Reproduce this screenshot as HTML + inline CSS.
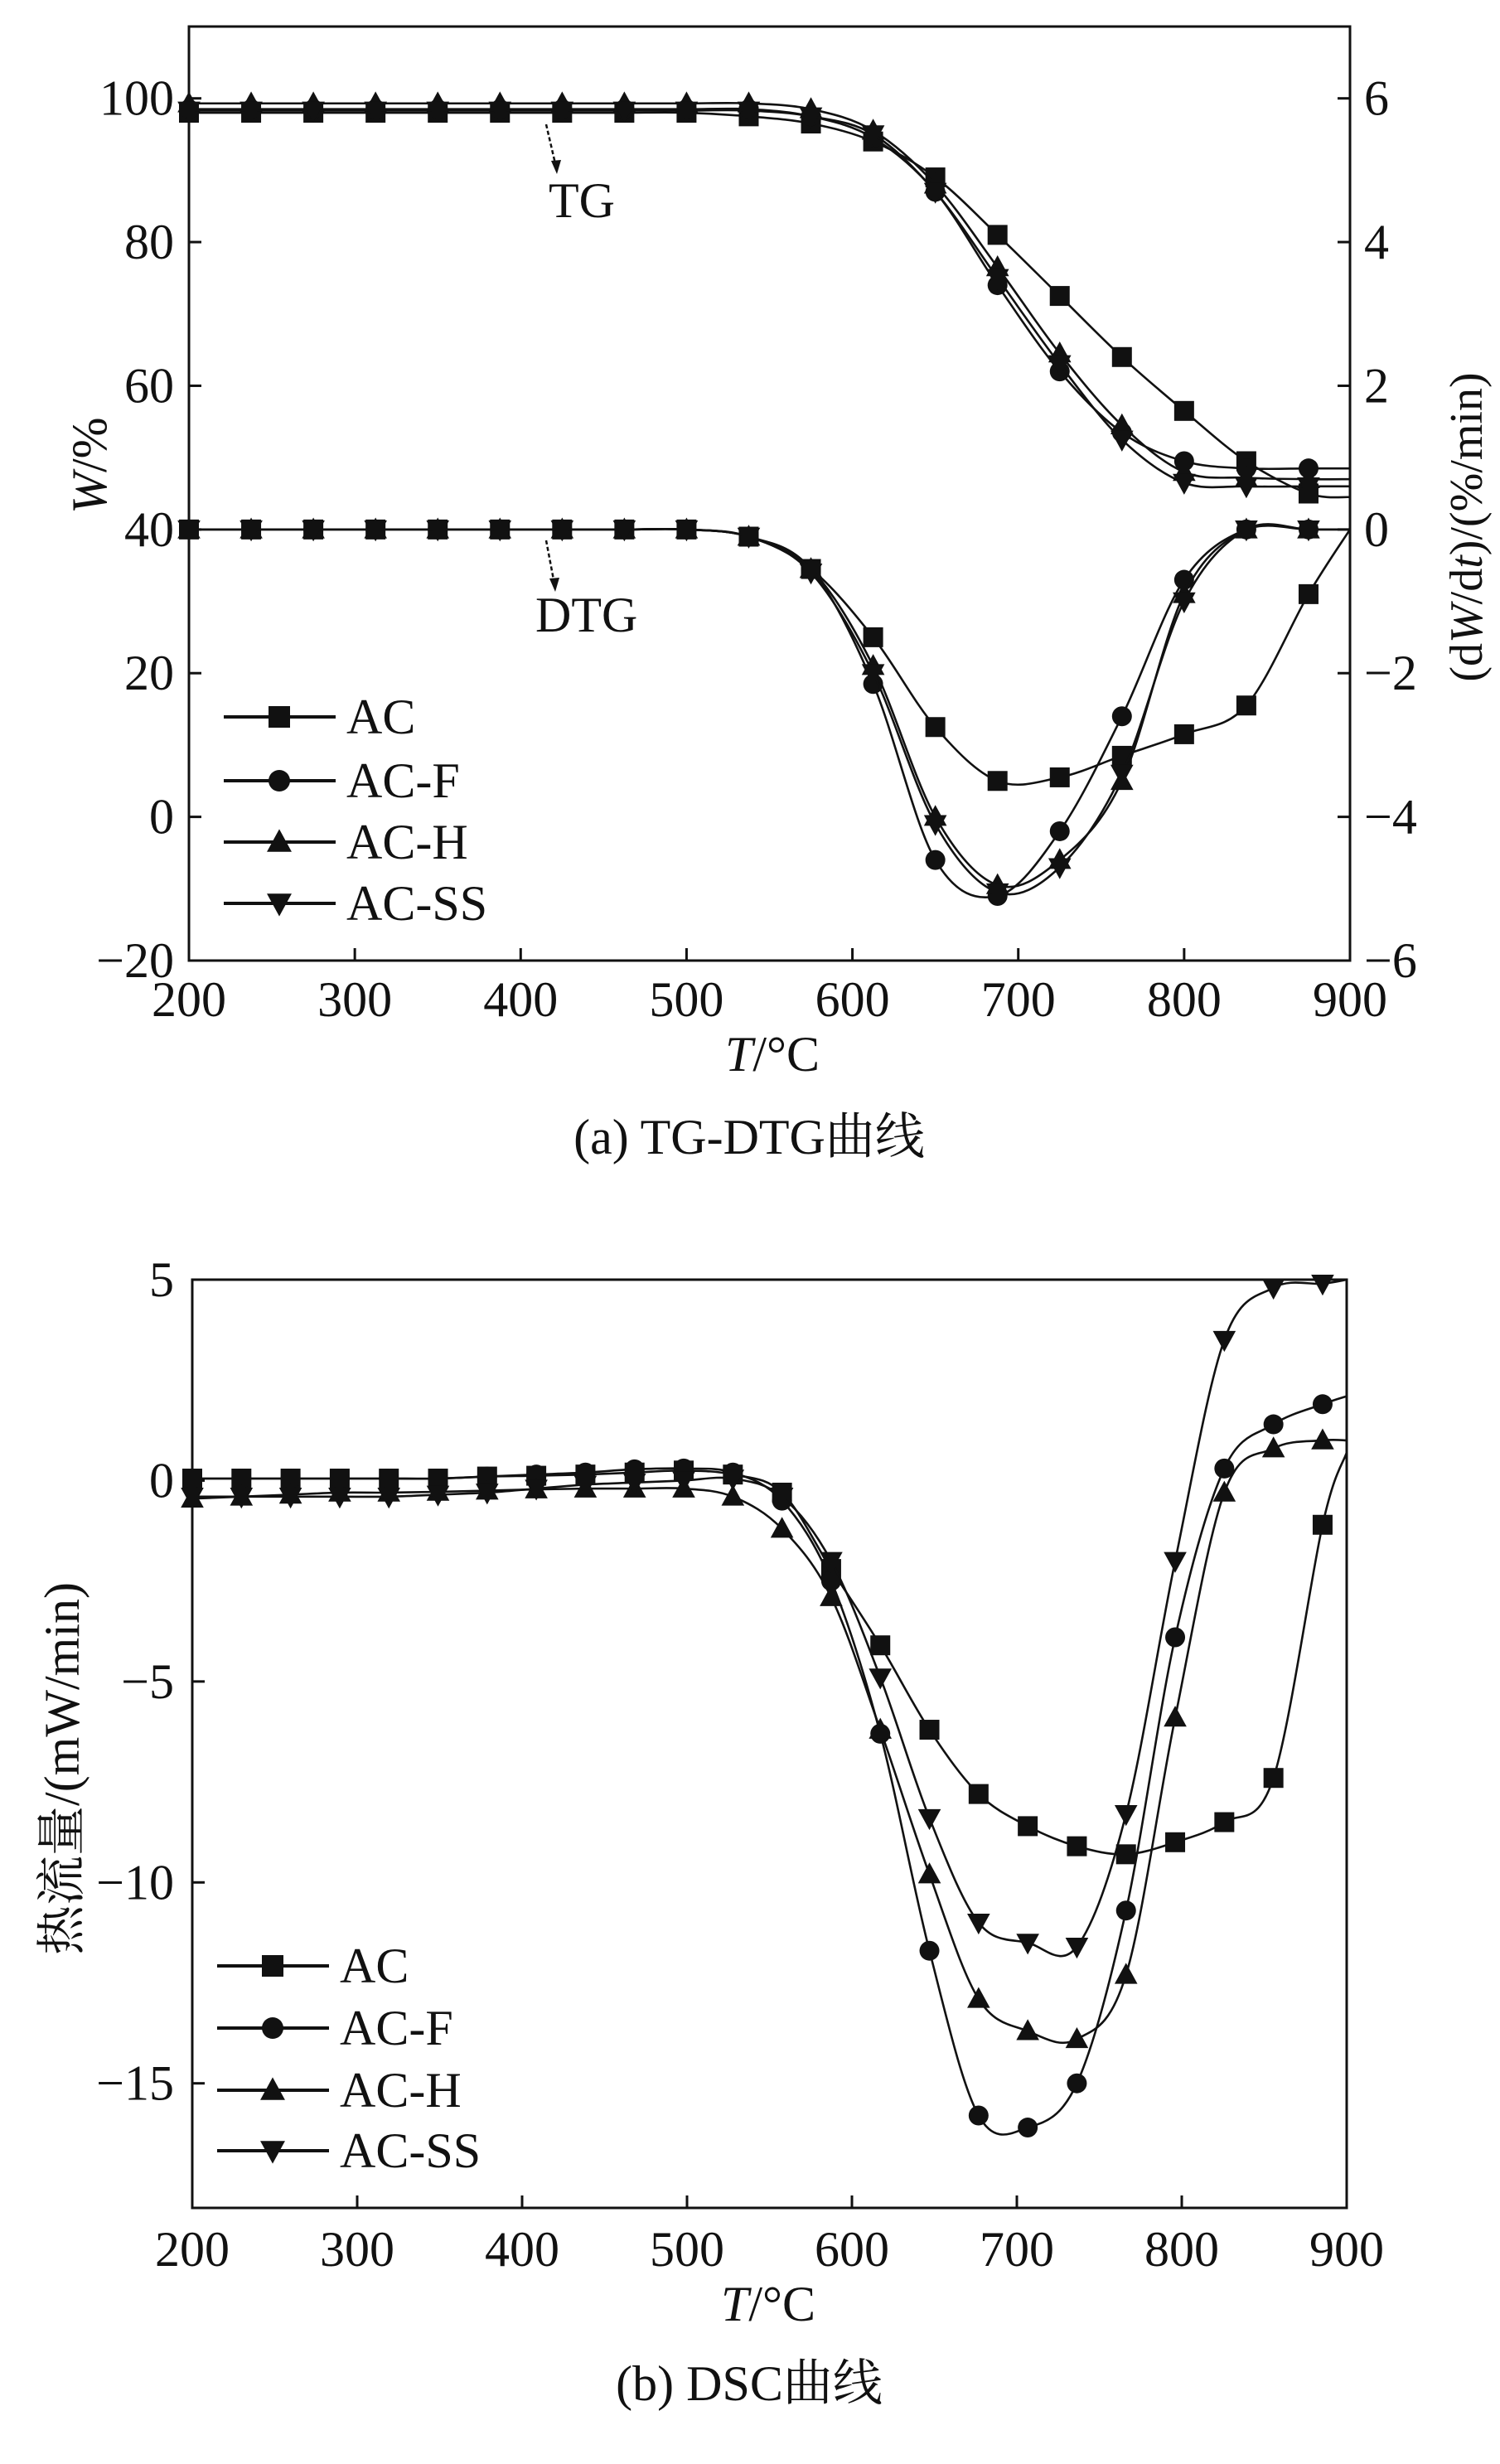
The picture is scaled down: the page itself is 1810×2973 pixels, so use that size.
<!DOCTYPE html>
<html><head><meta charset="utf-8">
<style>
html,body{margin:0;padding:0;background:#fff;}
svg, svg text, svg tspan{font-family:"Liberation Serif","Noto Serif CJK SC",serif;}
</style></head>
<body>
<svg id="fig" width="1810" height="2968" viewBox="0 0 1810 2968" xmlns="http://www.w3.org/2000/svg"></svg>
<script>
// ---------- Data: chart (a) TG-DTG ----------
const seriesNames = ["AC","AC-F","AC-H","AC-SS"];
const tgTemps = [200,237.5,275,312.5,350,387.5,425,462.5,500,537.5,575,612.5,650,687.5,725,762.5,800,837.5,875,900];
const tgAC  = [98,98,98,98,98,98,98,98,98,97.5,96.5,94,89,81,72.5,64,56.5,49.5,45,44.5];
const tgACF = [98.5,98.5,98.5,98.5,98.5,98.5,98.5,98.5,98.5,98.5,97.5,94.5,87,74,62,53.5,49.5,48.5,48.5,48.5];
const tgACH = [99.3,99.3,99.3,99.3,99.3,99.3,99.3,99.3,99.3,99.3,98.5,95.5,88,76.5,64.5,54.5,48,47.2,47,47];
const tgACSS= [98.3,98.3,98.3,98.3,98.3,98.3,98.3,98.3,98.3,98.3,97.5,95,87,75,63,52.5,46.5,46,46,46];
const dtgAC  = [40,40,40,40,40,40,40,40,40,39,34.5,25,12.5,5,5.5,8.5,11.5,15.5,31,40];
const dtgACF = [40,40,40,40,40,40,40,40,40,39,34.5,18.5,-6,-11,-2,14,33,40,40,40];
const dtgACH = [40,40,40,40,40,40,40,40,40,39,34.5,21,0,-9.5,-6,5,31,40,40,40];
const dtgACSS= [40,40,40,40,40,40,40,40,40,39,34,20,-1,-10.5,-7,6,30,40,40,40];
const xTicksA = [200,300,400,500,600,700,800,900];
const yTicksA = [-20,0,20,40,60,80,100];
const yTicksAR = [-6,-4,-2,0,2,4,6];
// ---------- Data: chart (b) DSC ----------
const dscTemps = [200,229.8,259.6,289.4,319.2,349,378.8,408.6,438.4,468.2,498,527.8,557.6,587.4,617.2,647,676.8,706.6,736.4,766.2,796,825.8,855.6,885.4,900];
const dscAC  = [0.05,0.05,0.05,0.05,0.05,0.05,0.1,0.12,0.15,0.2,0.25,0.15,-0.3,-2.2,-4.1,-6.2,-7.8,-8.6,-9.1,-9.3,-9.0,-8.5,-7.4,-1.1,0.7];
const dscACF = [0.05,0.05,0.05,0.05,0.05,0.05,0.1,0.15,0.2,0.28,0.3,0.2,-0.5,-2.5,-6.3,-11.7,-15.8,-16.1,-15.0,-10.7,-3.9,0.3,1.4,1.9,2.1];
const dscACH = [-0.45,-0.4,-0.35,-0.3,-0.3,-0.28,-0.25,-0.22,-0.2,-0.2,-0.2,-0.4,-1.2,-2.9,-6.2,-9.8,-12.9,-13.7,-13.9,-12.3,-5.9,-0.3,0.8,1.0,1.0];
const dscACSS= [-0.4,-0.4,-0.4,-0.4,-0.4,-0.35,-0.3,-0.2,-0.1,-0.05,0,0.05,-0.4,-2.0,-4.9,-8.4,-11.0,-11.5,-11.6,-8.3,-2.0,3.5,4.8,4.9,5.0];
const xTicksB = [200,300,400,500,600,700,800,900];
const yTicksB = [-15,-10,-5,0,5];

const NS="http://www.w3.org/2000/svg";
const FONT='"Liberation Serif","Noto Serif CJK SC",serif';
const svg=document.getElementById('fig');
function mk(tag,attrs,parent){const e=document.createElementNS(NS,tag);for(const k in attrs)e.setAttribute(k,attrs[k]);(parent||svg).appendChild(e);return e;}
function smooth(pts){let d=`M${pts[0][0]},${pts[0][1]}`;for(let i=0;i<pts.length-1;i++){const p0=pts[Math.max(0,i-1)],p1=pts[i],p2=pts[i+1],p3=pts[Math.min(pts.length-1,i+2)];const c1=[p1[0]+(p2[0]-p0[0])/6,p1[1]+(p2[1]-p0[1])/6],c2=[p2[0]-(p3[0]-p1[0])/6,p2[1]-(p3[1]-p1[1])/6];d+=` C${c1[0]},${c1[1]} ${c2[0]},${c2[1]} ${p2[0]},${p2[1]}`;}return d;}
function marker(type,x,y,g,s){s=s||12;let e;
 if(type===0){e=mk('rect',{x:x-s,y:y-s,width:2*s,height:2*s,fill:'#111'},g);}
 else if(type===1){e=mk('circle',{cx:x,cy:y,r:s,fill:'#111'},g);}
 else if(type===2){e=mk('polygon',{points:`${x},${y-s*1.2} ${x-s*1.15},${y+s*0.9} ${x+s*1.15},${y+s*0.9}`,fill:'#111'},g);}
 else {e=mk('polygon',{points:`${x},${y+s*1.2} ${x-s*1.15},${y-s*0.9} ${x+s*1.15},${y-s*0.9}`,fill:'#111'},g);}
 return e;}
function txt(s,x,y,attrs,parent){const t=mk('text',Object.assign({x:x,y:y,'font-size':60,fill:'#111','font-family':FONT},attrs||{}),parent);t.textContent=s;return t;}

function drawChart(cfg){
 const {L,R,T,B,xmin,xmax,ymin,ymax}=cfg;
 const X=v=>L+(v-xmin)/(xmax-xmin)*(R-L);
 const Y=v=>B-(v-ymin)/(ymax-ymin)*(B-T);
 const g=mk('g',{});
 
 
 const frame=mk('rect',{x:L,y:T,width:R-L,height:B-T,fill:'none',stroke:'#111','stroke-width':3},g);
 
 
 cfg.xTicks.forEach(v=>{mk('line',{x1:X(v),x2:X(v),y1:B,y2:B-15,stroke:'#111','stroke-width':3},g);
   const t=txt(String(v),X(v),cfg.xLabY,{'text-anchor':'middle'},g);
   
   });
 cfg.yTicks.forEach(v=>{mk('line',{x1:L,x2:L+15,y1:Y(v),y2:Y(v),stroke:'#111','stroke-width':3},g);
   const t=txt(v<0?'\u2212'+(-v):String(v),210,Y(v)+20,{'text-anchor':'end'},g);
   
   });
 if(cfg.yTicksR){cfg.yTicksR.forEach(v=>{const yy=Y(v*10+40);mk('line',{x1:R,x2:R-15,y1:yy,y2:yy,stroke:'#111','stroke-width':3},g);
   const t=txt(v<0?'\u2212'+(-v):String(v),1646,yy+20,{'text-anchor':'start'},g);
   
   });}
 cfg.series.forEach((s,si)=>{
   const sg=mk('g',{},g);
   
   
   const pts=cfg.xs.map((x,i)=>[X(x),Y(s.v[i])]);
   mk('path',{d:smooth(pts),fill:'none',stroke:'#111','stroke-width':2.6},sg);
   for(let i=0;i<cfg.xs.length-1;i++){const m=marker(si%4,pts[i][0],pts[i][1],sg);
     
     }
 });
 cfg.legendY.forEach((ly,i)=>{const lg=mk('g',{},g);
   
   
   mk('line',{x1:cfg.legX,x2:cfg.legX+135,y1:ly,y2:ly,stroke:'#111','stroke-width':4},lg);
   marker(i,cfg.legX+67,ly,lg,13);
   txt(seriesNames[i],cfg.legX+148,ly+20,{},lg);});
 return {X,Y};
}

// ---------- Chart (a) ----------
drawChart({name:'tg-dtg-chart',L:228,R:1629,T:32,B:1159,xmin:200,xmax:900,ymin:-20,ymax:110,
 xTicks:xTicksA,yTicks:yTicksA,yTicksR:yTicksAR,xLabY:1226,xs:tgTemps,
 series:[{v:tgAC,tag:'tg'},{v:tgACF,tag:'tg'},{v:tgACH,tag:'tg'},{v:tgACSS,tag:'tg'},{v:dtgAC,tag:'dtg'},{v:dtgACF,tag:'dtg'},{v:dtgACH,tag:'dtg'},{v:dtgACSS,tag:'dtg'}],
 legendY:[865,942,1016,1090],legX:270});
let a;
a=txt('TG',662,262,{});  
a=txt('DTG',646,762,{});  
[[659,150,672,206],[659,652,670,710]].forEach(p=>{const ag=mk('g',{});
 
 
 mk('line',{x1:p[0],y1:p[1],x2:p[2],y2:p[3],stroke:'#111','stroke-width':2.5,'stroke-dasharray':'5,3'},ag);
 mk('polygon',{points:`${p[2]},${p[3]+4} ${p[2]-7},${p[3]-12} ${p[2]+5},${p[3]-13}`,fill:'#111'},ag);});
a=txt('',0,0,{transform:'translate(128,620) rotate(-90)'});  
{const t1=mk('tspan',{'font-style':'italic'},a);t1.textContent='W';const t2=mk('tspan',{},a);t2.textContent='/%';}
a=txt('',0,0,{transform:'translate(1788,636) rotate(-90)','text-anchor':'middle','font-size':56});  
{const s1=mk('tspan',{},a);s1.textContent='(d';const s2=mk('tspan',{'font-style':'italic'},a);s2.textContent='W';const s3=mk('tspan',{},a);s3.textContent='/d';const s4=mk('tspan',{'font-style':'italic'},a);s4.textContent='t';const s5=mk('tspan',{},a);s5.textContent=')/(%/min)';}
a=txt('',932,1292,{'text-anchor':'middle'});  
{const s1=mk('tspan',{'font-style':'italic'},a);s1.textContent='T';const s2=mk('tspan',{},a);s2.textContent='/°C';}
a=txt('(a) TG-DTG曲线',904,1392,{'text-anchor':'middle'});  

// ---------- Chart (b) ----------
drawChart({name:'dsc-chart',L:232,R:1625,T:1544,B:2664,xmin:200,xmax:900,ymin:-18.1,ymax:5,
 xTicks:xTicksB,yTicks:yTicksB,xLabY:2734,xs:dscTemps,
 series:[{v:dscAC},{v:dscACF},{v:dscACH},{v:dscACSS}],
 legendY:[2372,2447,2522,2595],legX:262});
a=txt('热流量/(mW/min)',0,0,{transform:'translate(95,2134) rotate(-90)','text-anchor':'middle'});  
a=txt('',927,2800,{'text-anchor':'middle'});  
{const s1=mk('tspan',{'font-style':'italic'},a);s1.textContent='T';const s2=mk('tspan',{},a);s2.textContent='/°C';}
a=txt('(b) DSC曲线',904,2896,{'text-anchor':'middle'});  
</script>
</body></html>
